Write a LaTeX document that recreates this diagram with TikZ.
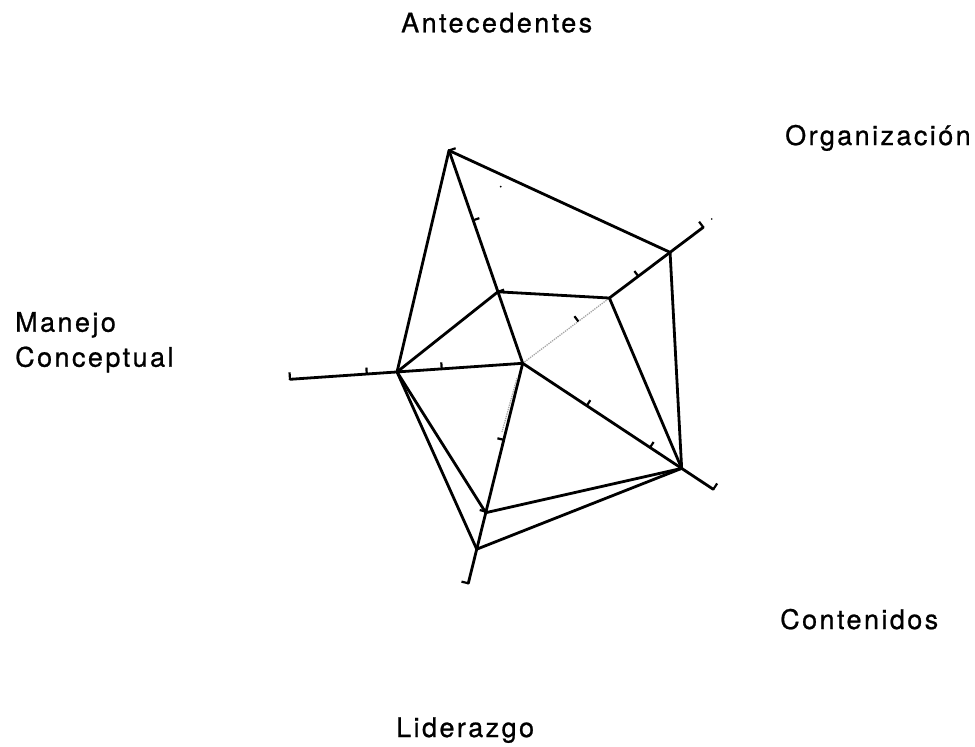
\documentclass[tikz,border=0pt]{standalone}
\usepackage{fontspec}
\setmainfont{TeX Gyre Heros}[LetterSpace=9,FakeBold=0.8]
\usetikzlibrary{calc}
\begin{document}
\begin{tikzpicture}[x=1pt,y=-1pt,
  axisline/.style={line width=2.8pt,line cap=round,line join=round},
  polyline/.style={line width=2.8pt,line cap=round,line join=round},
  tickmark/.style={line width=2.2pt,line cap=butt},
  faintline/.style={line width=1.3pt,gray!70,densely dotted},
  lbl/.style={anchor=base west,inner sep=0pt,font=\fontsize{27}{32}\selectfont}]
\useasboundingbox (0,0) rectangle (975,747);
% center and axis ends
\coordinate (C) at (522.7,363.3);
\coordinate (EA) at (449,150.5);
\coordinate (EO) at (703.3,227.3);
\coordinate (EK) at (713.3,489.3);
\coordinate (EL) at (468.3,583.3);
\coordinate (EM) at (290,379.3);
% data points
\coordinate (A1) at ($(C)!0.336!(EA)$);
\coordinate (O1) at ($(C)!0.48!(EO)$);
\coordinate (O2) at ($(C)!0.816!(EO)$);
\coordinate (K1) at ($(C)!0.834!(EK)$);
\coordinate (L1) at ($(C)!0.679!(EL)$);
\coordinate (L2) at ($(C)!0.845!(EL)$);
\coordinate (M1) at ($(C)!0.54!(EM)$);
% axes
\draw[axisline] (C) -- (EA);
\draw[faintline] (C) -- (O1);
\draw[axisline] (O1) -- (EO);
\draw[axisline] (C) -- (EK);
\draw[axisline] (C) -- (EL);
\draw[axisline] (C) -- (EM);
\coordinate (F1) at (517,378);
\coordinate (F2) at (502,432);
\draw[faintline] (F1) -- (F2);
% ticks
\foreach \e/\s/\ta/\tb in {EM/-90/0.348/0.670, EA/-90/0.336/0.672, EL/-90/0.348/0.674, EO/90/0.308/0.64, EK/90/0.336/0.668}{
  \draw[tickmark] ($(C)!\ta!(\e)$) -- ($($(C)!\ta!(\e)$)!6.5pt!\s:(\e)$);
  \draw[tickmark] ($(C)!\tb!(\e)$) -- ($($(C)!\tb!(\e)$)!6.5pt!\s:(\e)$);
  \draw[tickmark] (\e) -- ($(\e)!7pt!-\s:(C)$);
}
% outer polygon
\draw[polyline] (EA) -- (O2) -- (K1) -- (L2) -- (M1) -- cycle;
% inner polygon
\draw[polyline] (A1) -- (O1) -- (K1) -- (L1) -- (M1) -- cycle;
% specks
\fill (500.7,186.7) circle (1pt);
\fill (711.7,219) circle (0.8pt);
% labels
\node[lbl] (ant) at (401,32.3) {Antecedentes};
\node[lbl] (org) at (785,145) {Organización};
\node[lbl] (man1) at (15,331.7) {Manejo};
\node[lbl] (man2) at (15,366.7) {Conceptual};
\node[lbl] (con) at (780,629) {Contenidos};
\node[lbl] (lid) at (396,737) {Liderazgo};
\end{tikzpicture}
\end{document}
